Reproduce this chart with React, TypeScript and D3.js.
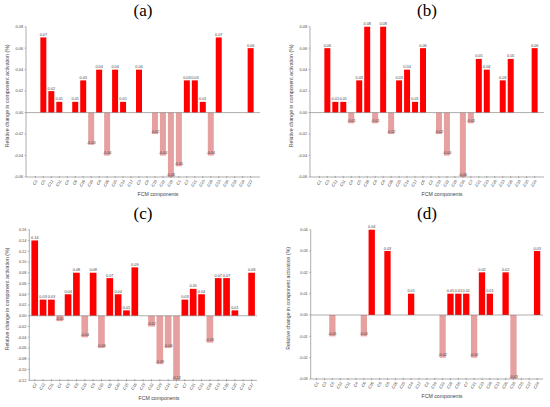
import React from 'react';
import * as d3 from 'd3';

// panel (a)
const categoriesA = ['C2', 'C5', 'C12', 'C11', 'C4', 'C6', 'C16', 'C20', 'C8', 'C26', 'C25', 'C14', 'C17', 'C3', 'C9', 'C19', 'C22', 'C29', 'C1', 'C7', 'C21', 'C23', 'C28', 'C13', 'C10', 'C18', 'C24', 'C27'];
const valuesA = [0, 0.07, 0.02, 0.01, 0, 0.01, 0.03, -0.03, 0.04, -0.04, 0.04, 0.01, 0, 0.04, 0, -0.02, -0.04, -0.06, -0.05, 0.03, 0.03, 0.01, -0.04, 0.07, 0, 0, 0, 0.06];
const ticksA = [-0.06, -0.04, -0.02, 0, 0.02, 0.04, 0.06, 0.08];

// panel (b)
const categoriesB = ['C1', 'C3', 'C12', 'C11', 'C4', 'C5', 'C16', 'C9', 'C8', 'C26', 'C25', 'C14', 'C17', 'C6', 'C2', 'C19', 'C22', 'C29', 'C10', 'C7', 'C21', 'C23', 'C28', 'C13', 'C20', 'C18', 'C15', 'C24'];
const valuesB = [0, 0.06, 0.01, 0.01, -0.01, 0.03, 0.08, -0.01, 0.08, -0.02, 0.03, 0.04, 0.01, 0.06, 0, -0.02, -0.04, 0, -0.06, -0.01, 0.05, 0.04, 0, 0.03, 0.05, 0, 0, 0.06];
const ticksB = [-0.06, -0.04, -0.02, 0, 0.02, 0.04, 0.06, 0.08];

// panel (c)
const categoriesC = ['C2', 'C12', 'C11', 'C4', 'C5', 'C8', 'C18', 'C9', 'C10', 'C6', 'C20', 'C15', 'C16', 'C19', 'C22', 'C29', 'C24', 'C1', 'C7', 'C21', 'C23', 'C28', 'C13', 'C26', 'C25', 'C14', 'C27'];
const valuesC = [0.14, 0.03, 0.03, -0.01, 0.04, 0.08, -0.04, 0.08, -0.06, 0.07, 0.04, 0.01, 0.09, 0, -0.02, -0.09, -0.06, -0.12, 0.03, 0.05, 0.04, -0.05, 0.07, 0.07, 0.01, 0, 0.08];
const ticksC = [-0.12, -0.1, -0.08, -0.06, -0.04, -0.02, 0, 0.02, 0.04, 0.06, 0.08, 0.1, 0.12, 0.14, 0.16];

// panel (d)
const categoriesD = ['C1', 'C3', 'C5', 'C12', 'C11', 'C4', 'C6', 'C16', 'C9', 'C8', 'C26', 'C25', 'C14', 'C17', 'C2', 'C19', 'C22', 'C29', 'C10', 'C7', 'C21', 'C23', 'C28', 'C13', 'C20', 'C18', 'C15', 'C27', 'C24'];
const valuesD = [0, 0, -0.01, 0, 0, 0, -0.01, 0.04, 0, 0.03, 0, 0, 0.01, 0, 0, 0, -0.02, 0.01, 0.01, 0.01, -0.02, 0.02, 0.01, 0, 0.02, -0.03, 0, 0, 0.03];
const ticksD = [-0.03, -0.02, -0.01, 0, 0.01, 0.02, 0.03, 0.04];

const POS = '#ff0000';
const NEG = '#e6a0a0';
const AXIS = '#777';
const TXT = '#444';

const Panel = ({ title, categories, values, ticks, frame }) => {
  const { left, right, top, bottom, pi, po, titleX, titleY, xTitleX, xTitleY, yTitleX } = frame;

  const x = d3.scaleBand().domain(categories).range([left, right]).paddingInner(pi).paddingOuter(po);
  const y = d3.scaleLinear().domain([ticks[0], ticks[ticks.length - 1]]).range([bottom, top]);
  const bw = x.bandwidth();
  const y0 = y(0);

  return (
    <g>
      <text x={titleX} y={titleY} textAnchor="middle" fontFamily="Liberation Serif, Times New Roman, serif" fontSize={17} fill="#000">
        {title}
      </text>

      {/* y axis */}
      <line x1={left} x2={left} y1={top} y2={bottom} stroke={AXIS} strokeWidth={0.6} />
      {ticks.map((t) => (
        <g key={t}>
          <line x1={left - 1.5} x2={left} y1={y(t)} y2={y(t)} stroke={AXIS} strokeWidth={0.5} />
          <text x={left - 3} y={y(t)} dy="0.35em" textAnchor="end" fontSize={3.8} fill={TXT} fontFamily="Liberation Sans, Arial, sans-serif">
            {t.toFixed(2)}
          </text>
        </g>
      ))}

      {/* bars */}
      {values.map((v, i) => {
        if (v === 0) return null;
        const cx = x(categories[i]) + bw / 2;
        return (
          <rect key={i} x={x(categories[i])} width={bw} y={Math.min(y(v), y0)} height={Math.abs(y(v) - y0)} fill={v > 0 ? POS : NEG} />
        );
      })}

      {/* zero line */}
      <line x1={left} x2={right} y1={y0} y2={y0} stroke={AXIS} strokeWidth={0.6} />

      {/* value labels */}
      {values.map((v, i) => {
        if (v === 0) return null;
        const cx = x(categories[i]) + bw / 2;
        return (
          <text key={i} x={cx} y={v > 0 ? y(v) - 1.5 : y(v) - 1.2} textAnchor="middle" fontSize={3.8} fill={TXT} fontFamily="Liberation Sans, Arial, sans-serif">
            {v.toFixed(2)}
          </text>
        );
      })}

      {/* x axis */}
      <line x1={left} x2={right} y1={bottom} y2={bottom} stroke={AXIS} strokeWidth={0.6} />
      {categories.map((c) => {
        const cx = x(c) + bw / 2;
        return (
          <g key={c}>
            <line x1={cx} x2={cx} y1={bottom - 1.2} y2={bottom + 1.2} stroke={AXIS} strokeWidth={0.5} />
            <text
              transform={`translate(${cx + 1},${bottom + 3}) rotate(-60)`}
              textAnchor="end"
              dy="0.35em"
              fontSize={4}
              fill={TXT}
              fontFamily="Liberation Sans, Arial, sans-serif"
            >
              {c}
            </text>
          </g>
        );
      })}

      <text x={xTitleX} y={xTitleY} textAnchor="middle" fontSize={5.2} fill={TXT} fontFamily="Liberation Sans, Arial, sans-serif">
        FCM components
      </text>
      <text
        transform={`translate(${yTitleX},${(top + bottom) / 2 - 6}) rotate(-90)`}
        textAnchor="middle"
        dy="0.35em"
        fontSize={5.2}
        fill={TXT}
        fontFamily="Liberation Sans, Arial, sans-serif"
      >
        Relative change in component activation (%)
      </text>
    </g>
  );
};

const frameA = { left: 26, right: 260, top: 26.7, bottom: 177, pi: 0.25, po: 0.8, titleX: 143, titleY: 16, xTitleX: 158, xTitleY: 196, yTitleX: 7 };
const frameB = { left: 310, right: 544, top: 26.7, bottom: 177, pi: 0.25, po: 0.8, titleX: 427, titleY: 16, xTitleX: 442, xTitleY: 196, yTitleX: 291 };
const frameC = { left: 29.3, right: 257, top: 229.7, bottom: 380.3, pi: 0.2, po: 0.25, titleX: 143, titleY: 219, xTitleX: 159, xTitleY: 400, yTitleX: 7 };
const frameD = { left: 310.7, right: 543, top: 229.7, bottom: 379, pi: 0.2, po: 0.35, titleX: 427, titleY: 219, xTitleX: 442, xTitleY: 398, yTitleX: 288 };

export default function App() {
  return (
    <svg width={550} height={407} style={{ position: 'absolute', left: 0, top: 0, background: '#fff' }}>
      <Panel title="(a)" categories={categoriesA} values={valuesA} ticks={ticksA} frame={frameA} />
      <Panel title="(b)" categories={categoriesB} values={valuesB} ticks={ticksB} frame={frameB} />
      <Panel title="(c)" categories={categoriesC} values={valuesC} ticks={ticksC} frame={frameC} />
      <Panel title="(d)" categories={categoriesD} values={valuesD} ticks={ticksD} frame={frameD} />
    </svg>
  );
}
